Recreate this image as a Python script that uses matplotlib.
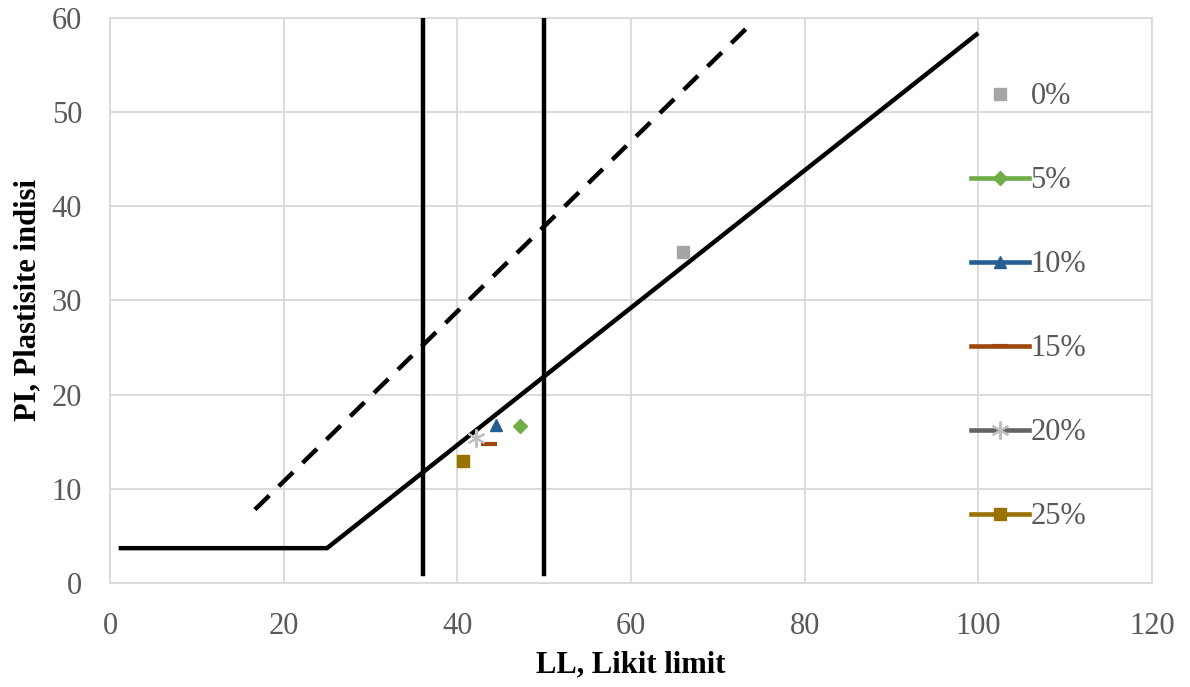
import numpy as np
import matplotlib
matplotlib.use('Agg')
from matplotlib import pyplot as plt

plt.rcParams['font.family'] = ['Liberation Serif', 'DejaVu Serif']

# series: liquid limit (LL) and plasticity index (PI)
labels = ['0%', '5%', '10%', '15%', '20%', '25%']
ll = [66.0, 47.2, 44.5, 43.6, 42.1, 40.7]
pi = [35.2, 16.7, 16.8, 14.8, 15.4, 13.0]
line_colors = ['#A5A5A5', '#70AD47', '#255E91', '#9E480E', '#636363', '#997300']
marker_colors = ['#A5A5A5', '#70AD47', '#255E91', '#9E480E', '#BFBFBF', '#997300']
markers = ['s', 'D', '^', '_', (6, 2, 0), 's']
msizes = [9, 7, 9, 12, 13, 9]

# classification chart lines
a_line_x = [1, 25, 100]
a_line_y = [3.7, 3.7, 58.4]
u_line_x = [16.7, 74.3]
u_line_y = [7.8, 59.8]
ll_bounds = [36, 50]
bound_y = [1, 62]

fig = plt.figure(figsize=(11.9, 6.87), dpi=100)
ax = fig.add_axes([0.0924, 0.1514, 0.8756, 0.8224])

ax.plot(a_line_x, a_line_y, color='black', lw=3.2, solid_capstyle='butt', zorder=3)
ax.plot(u_line_x, u_line_y, color='black', lw=3.2, dashes=(4.5, 3), zorder=3)
for b in ll_bounds:
    ax.plot([b, b], bound_y, color='black', lw=3.2, zorder=3)

for i in range(len(labels)):
    ls = 'none' if i == 0 else '-'
    ax.plot([ll[i]], [pi[i]], linestyle=ls, lw=3.3, color=line_colors[i],
            marker=markers[i], markersize=msizes[i],
            markerfacecolor=marker_colors[i], markeredgecolor=marker_colors[i],
            markeredgewidth=1.5 if i == 4 else (3 if i == 3 else 1),
            label=labels[i], zorder=4)

ax.set_xlim(0, 120)
ax.set_ylim(0, 60)
ax.set_xticks(np.arange(0, 121, 20))
ax.set_yticks(np.arange(0, 61, 10))
ax.grid(True, color='#D9D9D9', lw=1.3)
ax.set_axisbelow(True)
for s in ax.spines.values():
    s.set_color('#D9D9D9')
    s.set_linewidth(1.3)
ax.tick_params(axis='x', length=0, labelsize=22, labelcolor='#595959', pad=21)
ax.tick_params(axis='y', length=0, labelsize=22, labelcolor='#595959', pad=20)

ax.set_xlabel('LL, Likit limit', fontsize=22, fontweight='bold', labelpad=7)
ax.set_ylabel('PI, Plastisite indisi', fontsize=22, fontweight='bold', labelpad=7)

leg = ax.legend(loc='upper left', bbox_to_anchor=(0.8145, 0.908), frameon=False,
                fontsize=22, labelcolor='#595959', handlelength=1.9,
                handletextpad=0.05, labelspacing=1.8, borderaxespad=0)

fig.savefig('out.png', dpi=100)
